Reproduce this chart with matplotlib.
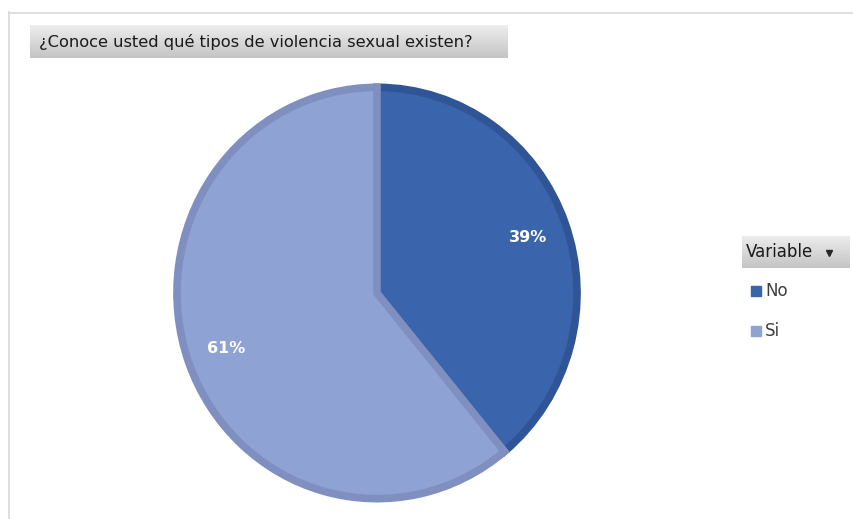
import matplotlib.pyplot as plt
import numpy as np

titulo = '¿Conoce usted qué tipos de violencia sexual existen?'
categorias = ['No', 'Si']
porcentajes = [39, 61]
colores = ['#3A64AC', '#8FA2D4']
bordes = ['#2F5597', '#7F8FBF']

W, H = 854, 519
fig = plt.figure(figsize=(W / 100, H / 100), dpi=100)


def fx(px):
    return px / W


def fy(py):
    return 1 - py / H


# marco del grafico
fig.add_artist(plt.Line2D([fx(8.5), fx(8.5)], [fy(12), 0], color='#d9d9d9', lw=1.2))
fig.add_artist(plt.Line2D([fx(8.5), 1], [fy(12.5), fy(12.5)], color='#d9d9d9', lw=1.2))

# degradado gris de arriba (claro) a abajo (oscuro)
t = np.linspace(0, 1, 64).reshape(-1, 1, 1)
arriba = np.array([0.93, 0.93, 0.93])
abajo = np.array([0.77, 0.77, 0.77])
grad = arriba * (1 - t) + abajo * t


def caja_gris(x0, y0, x1, y1):
    a = fig.add_axes([fx(x0), fy(y1), fx(x1 - x0), (y1 - y0) / H])
    a.imshow(grad, aspect='auto', extent=[0, 1, 0, 1])
    a.set_axis_off()
    return a


# titulo
at = caja_gris(30, 25, 508, 58)
at.text(0.018, 0.5, titulo, fontsize=11.7, color='#1a1a1a', va='center', ha='left',
        transform=at.transAxes)

# pastel
cx, cy = 377, 293
ax = fig.add_axes([fx(cx - 213), fy(cy + 219), fx(426), 438 / H])
wedges, textos, autotextos = ax.pie(
    porcentajes, colors=colores, startangle=90, counterclock=False,
    autopct='%1.0f%%', pctdistance=0.8, radius=1 - 0.014,
    wedgeprops=dict(linewidth=5.5))
for w, b in zip(wedges, bordes):
    w.set_edgecolor(b)
for tx in autotextos:
    tx.set_color('white')
    tx.set_fontsize(11.5)
    tx.set_fontweight('bold')
ax.set_xlim(-1.05, 1.05)
ax.set_ylim(-1.05, 1.05)
ax.set_aspect('auto')

# leyenda
al = caja_gris(742, 236, 850, 268)
al.text(0.04, 0.5, 'Variable', fontsize=12, color='#1a1a1a', va='center', ha='left',
        transform=al.transAxes)
al.plot([0.81], [0.47], marker='v', markersize=5, color='#262626',
        transform=al.transAxes)

for i, (cat, col) in enumerate(zip(categorias, colores)):
    yy = 291 + 40 * i
    fig.add_artist(plt.Rectangle((fx(751), fy(yy + 5)), fx(10), 10 / H,
                                 color=col, transform=fig.transFigure))
    fig.text(fx(765), fy(yy), cat, fontsize=12, color='#404040', va='center', ha='left')

fig.savefig('out.png', dpi=100)
